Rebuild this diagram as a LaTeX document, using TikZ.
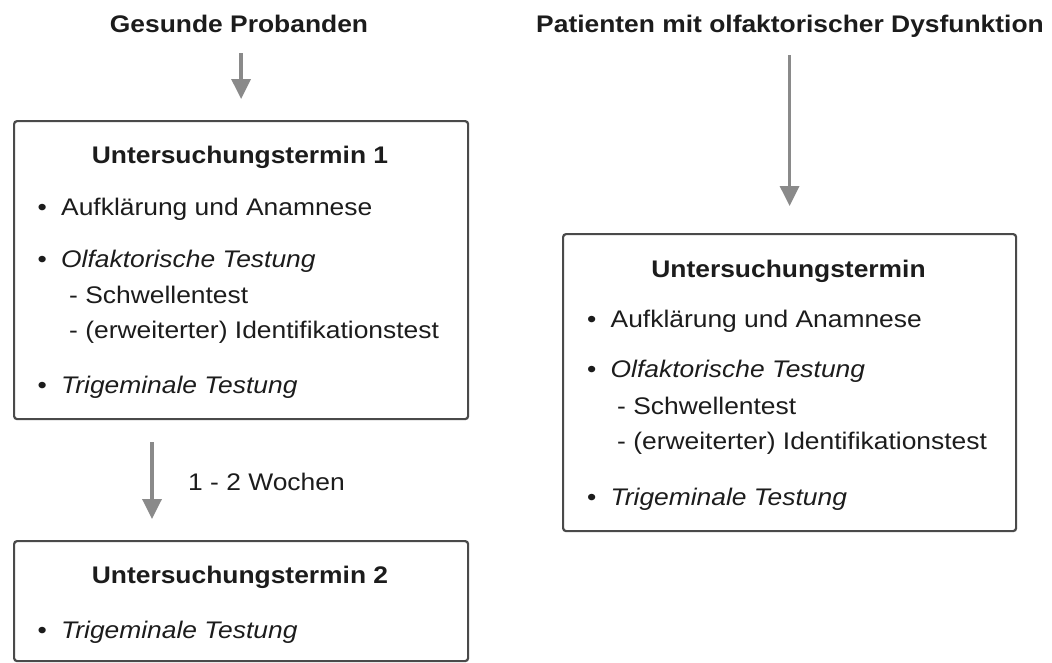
\documentclass[tikz,border=0pt]{standalone}
\usepackage{fontspec}
\setmainfont{Liberation Sans}[FakeStretch=1.1]
\usepackage{tikz}
\usetikzlibrary{arrows.meta,positioning}
\definecolor{framegrey}{HTML}{4A4A4A}
\definecolor{arrowgrey}{HTML}{8A8A8A}
\definecolor{inkblack}{HTML}{1C1C1C}
\newcommand{\punkt}{\makebox[23.5pt][l]{•}}
\tikzset{
  panel/.style       = {draw=framegrey, line width=2.2pt, rounded corners=3pt,
                        fill=white, anchor=north west, inner sep=0pt},
  group title/.style = {font=\fontsize{24}{28}\selectfont\bfseries, text=inkblack,
                        anchor=base, inner sep=0pt},
  panel title/.style = {group title},
  item/.style        = {font=\fontsize{24}{28}\selectfont, text=inkblack,
                        anchor=base west, inner sep=0pt},
  flow arrow/.style  = {arrowgrey, line width=3.5pt,
                        -{Triangle[length=20pt,width=19pt]}},
}

\begin{document}
\begin{tikzpicture}[x=1pt,y=-1pt]
  \useasboundingbox (0,0) rectangle (1052,662);
  % gruppen
  \node[group title] (probanden) at (239,32) {Gesunde Probanden};
  \node[group title] (patienten) at (790,32) {Patienten mit olfaktorischer Dysfunktion};
  % linke spalte
  \node[panel, minimum width=454pt, minimum height=298pt] (termin1) at (13,120) {};
  \node[panel title] (t1head) at (240,163) {Untersuchungstermin 1};
  \node[item] (t1a) at (37.5,215) {\punkt Aufklärung und Anamnese};
  \node[item] (t1b) at (37.5,267) {\punkt\textit{Olfaktorische Testung}};
  \node[item] (t1c) at (69,303) {- Schwellentest};
  \node[item] (t1d) at (69,338) {- (erweiterter) Identifikationstest};
  \node[item] (t1e) at (37.5,393) {\punkt\textit{Trigeminale Testung}};
  \node[panel, minimum width=454pt, minimum height=120pt] (termin2) at (13,540) {};
  \node[panel title] (t2head) at (240,583) {Untersuchungstermin 2};
  \node[item] (t2a) at (37.5,638) {\punkt\textit{Trigeminale Testung}};
  \node[item] (intervall) at (188,490) {1 - 2 Wochen};
  % rechte spalte
  \node[panel, minimum width=453pt, minimum height=297pt] (termin) at (562,233) {};
  \node[panel title] (thead) at (788.5,277) {Untersuchungstermin};
  \node[item] (ta) at (587,327) {\punkt Aufklärung und Anamnese};
  \node[item] (tb) at (587,377) {\punkt\textit{Olfaktorische Testung}};
  \node[item] (tc) at (617,414) {- Schwellentest};
  \node[item] (td) at (617,449) {- (erweiterter) Identifikationstest};
  \node[item] (te) at (587,505) {\punkt\textit{Trigeminale Testung}};
  % pfeile
  \draw[flow arrow, shorten <=21pt, shorten >=21pt]
    (termin1.north |- probanden.south) -- (termin1.north);
  \draw[flow arrow, shorten <=22pt, shorten >=21pt]
    ([xshift=139pt]termin1.south west) -- ([xshift=139pt]termin2.north west);
  \draw[flow arrow, shorten <=18pt, shorten >=27pt]
    (termin.north |- patienten.south) -- (termin.north);
\end{tikzpicture}
\end{document}
